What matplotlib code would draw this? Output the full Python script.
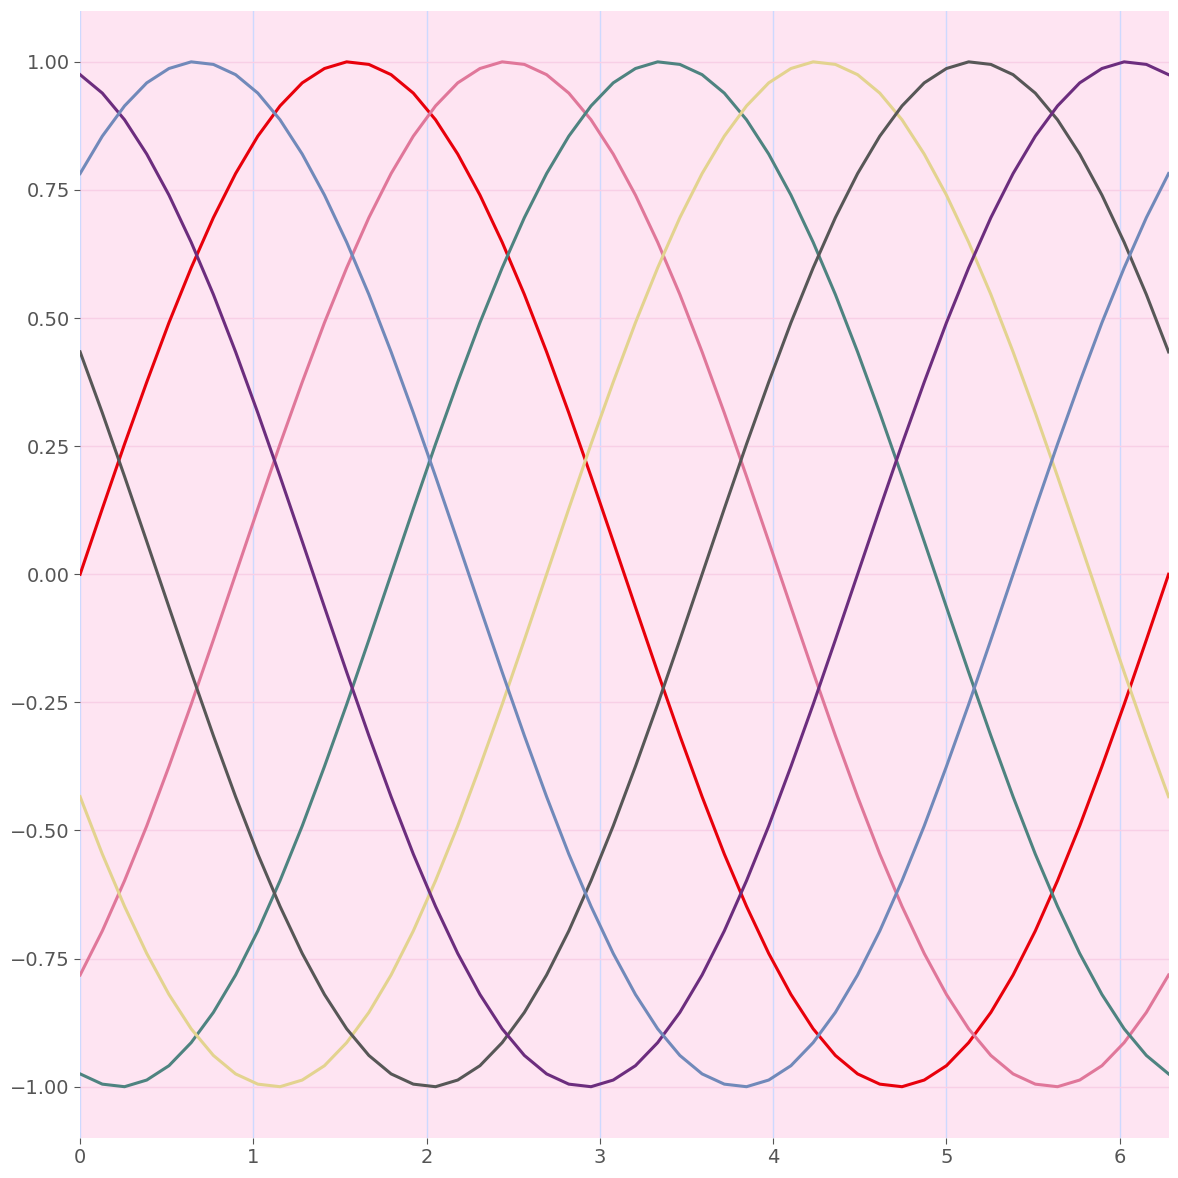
import matplotlib
matplotlib.use("Agg")
import matplotlib.pyplot as plt
import numpy as np

## Data (50 samples from 0 to 2*pi)
x = np.linspace(0, 2 * np.pi, 50)

red = [0.000, 0.128, 0.254, 0.375, 0.491, 0.598, 0.696, 0.782, 0.855, 0.914, 0.959, 0.987, 1.000, 0.995,
       0.975, 0.939, 0.887, 0.820, 0.740, 0.648, 0.546, 0.434, 0.315, 0.191, 0.064,
       -0.064, -0.191, -0.315, -0.434, -0.546, -0.648, -0.740, -0.820, -0.887, -0.939, -0.975, -0.995, -1.000,
       -0.987, -0.959, -0.914, -0.855, -0.782, -0.696, -0.598, -0.491, -0.375, -0.254, -0.128, 0.000]
pink = [-0.782, -0.696, -0.598, -0.491, -0.375, -0.254, -0.128,
        0.000, 0.128, 0.254, 0.375, 0.491, 0.598, 0.696, 0.782, 0.855, 0.914, 0.959, 0.987, 1.000, 0.995,
        0.975, 0.939, 0.887, 0.820, 0.740, 0.648, 0.546, 0.434, 0.315, 0.191, 0.064,
        -0.064, -0.191, -0.315, -0.434, -0.546, -0.648, -0.740, -0.820, -0.887, -0.939, -0.975, -0.995, -1.000,
        -0.987, -0.959, -0.914, -0.855, -0.782]
green = [-0.975, -0.995, -1.000, -0.987, -0.959, -0.914, -0.855, -0.782, -0.696, -0.598, -0.491, -0.375,
         -0.254, -0.128,
         0.000, 0.128, 0.254, 0.375, 0.491, 0.598, 0.696, 0.782, 0.855, 0.914, 0.959, 0.987, 1.000, 0.995,
         0.975, 0.939, 0.887, 0.820, 0.740, 0.648, 0.546, 0.434, 0.315, 0.191, 0.064,
         -0.064, -0.191, -0.315, -0.434, -0.546, -0.648, -0.740, -0.820, -0.887, -0.939, -0.975]
yellow = [-0.434, -0.546, -0.648, -0.740, -0.820, -0.887, -0.939, -0.975, -0.995, -1.000, -0.987, -0.959,
          -0.914, -0.855, -0.782, -0.696, -0.598, -0.491, -0.375, -0.254, -0.128,
          0.000, 0.128, 0.254, 0.375, 0.491, 0.598, 0.696, 0.782, 0.855, 0.914, 0.959, 0.987, 1.000, 0.995,
          0.975, 0.939, 0.887, 0.820, 0.740, 0.648, 0.546, 0.434, 0.315, 0.191, 0.064,
          -0.064, -0.191, -0.315, -0.434]
gray = [0.434, 0.315, 0.191, 0.064,
        -0.064, -0.191, -0.315, -0.434, -0.546, -0.648, -0.740, -0.820, -0.887, -0.939, -0.975, -0.995, -1.000,
        -0.987, -0.959, -0.914, -0.855, -0.782, -0.696, -0.598, -0.491, -0.375, -0.254, -0.128,
        0.000, 0.128, 0.254, 0.375, 0.491, 0.598, 0.696, 0.782, 0.855, 0.914, 0.959, 0.987, 1.000, 0.995,
        0.975, 0.939, 0.887, 0.820, 0.740, 0.648, 0.546, 0.434]
purple = [0.975, 0.939, 0.887, 0.820, 0.740, 0.648, 0.546, 0.434, 0.315, 0.191, 0.064,
          -0.064, -0.191, -0.315, -0.434, -0.546, -0.648, -0.740, -0.820, -0.887, -0.939, -0.975, -0.995,
          -1.000, -0.987, -0.959, -0.914, -0.855, -0.782, -0.696, -0.598, -0.491, -0.375, -0.254, -0.128,
          0.000, 0.128, 0.254, 0.375, 0.491, 0.598, 0.696, 0.782, 0.855, 0.914, 0.959, 0.987, 1.000, 0.995,
          0.975]
blue = [0.782, 0.855, 0.914, 0.959, 0.987, 1.000, 0.995, 0.975, 0.939, 0.887, 0.820, 0.740, 0.648, 0.546,
        0.434, 0.315, 0.191, 0.064,
        -0.064, -0.191, -0.315, -0.434, -0.546, -0.648, -0.740, -0.820, -0.887, -0.939, -0.975, -0.995, -1.000,
        -0.987, -0.959, -0.914, -0.855, -0.782, -0.696, -0.598, -0.491, -0.375, -0.254, -0.128,
        0.000, 0.128, 0.254, 0.375, 0.491, 0.598, 0.696, 0.782]

series = [red, pink, green, yellow, gray, purple, blue]
colors = ['#e8000b', '#e0779a', '#4e8380', '#e3d38f', '#575757', '#6c2d7e', '#7189ba']

## Figure
fig, ax = plt.subplots(figsize=(11.78, 11.78), dpi=100)
fig.subplots_adjust(left=0.068, right=0.992, bottom=0.034, top=0.991)
ax.set_facecolor('#fee4f2')

for y, c in zip(series, colors):
    ax.plot(x, y, color=c, linewidth=2.2)

ax.set_xlim(0, 2 * np.pi)
ax.set_ylim(-1.1, 1.1)
ax.set_yticks([-1.0, -0.75, -0.5, -0.25, 0.0, 0.25, 0.5, 0.75, 1.0])

ax.grid(axis='x', color='#cdd9ff', linewidth=1)
ax.grid(axis='y', color='#f8cfe6', linewidth=1)
ax.set_axisbelow(True)
for s in ax.spines.values():
    s.set_visible(False)
ax.tick_params(colors='#555555', labelsize=14, length=4)

fig.savefig('out.png')
